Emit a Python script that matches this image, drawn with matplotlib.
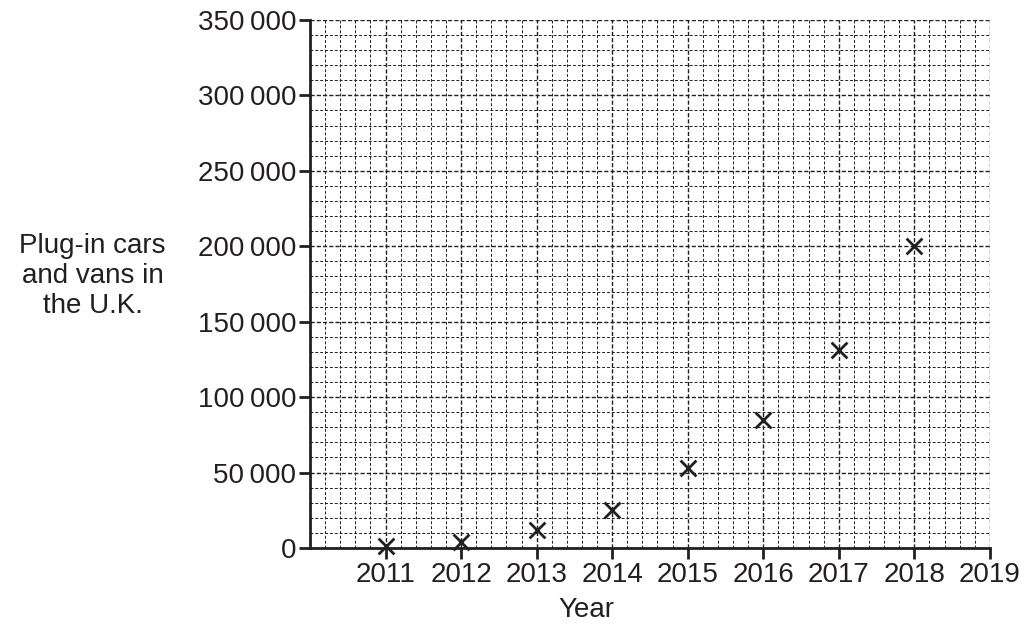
import matplotlib
matplotlib.use("Agg")
import matplotlib.pyplot as plt
from matplotlib.ticker import MultipleLocator, FuncFormatter

years = [2011, 2012, 2013, 2014, 2015, 2016, 2017, 2018]
vehicles = [1300, 4000, 12000, 25000, 53000, 85000, 131000, 200000]
year_ticks = [2011, 2012, 2013, 2014, 2015, 2016, 2017, 2018, 2019]

plt.rcParams["font.family"] = ["Liberation Sans", "DejaVu Sans"]
INK = "#231f20"
FS = 20

fig = plt.figure(figsize=(10.3, 6.28), dpi=100)
ax = fig.add_axes([0.301, 0.1274, 0.66, 0.8408])

ax.set_xlim(2010, 2019)
ax.set_ylim(0, 350000)

# fine graph-paper grid: 5 squares per year, 10 000 per square
ax.xaxis.set_minor_locator(MultipleLocator(0.2))
ax.yaxis.set_minor_locator(MultipleLocator(10000))
ax.set_xticks(year_ticks)
ax.yaxis.set_major_locator(MultipleLocator(50000))
ax.yaxis.set_major_formatter(FuncFormatter(
    lambda v, _: "0" if v == 0 else f"{int(v):,}".replace(",", "\u2009")))

ax.grid(which="minor", color=INK, ls=(0, (3, 2)), lw=0.7)
ax.grid(which="major", color=INK, ls=(0, (3, 1.5)), lw=1.0)
ax.set_axisbelow(True)

for s in ["top", "right"]:
    ax.spines[s].set_visible(False)
for s in ["left", "bottom"]:
    ax.spines[s].set_linewidth(2)
    ax.spines[s].set_color(INK)

ax.tick_params(which="major", length=8, width=2, color=INK,
               labelsize=FS, labelcolor=INK, pad=2)
ax.tick_params(which="minor", length=0)

ax.scatter(years, vehicles, marker="x", s=130, color=INK, linewidths=2,
           zorder=5, clip_on=False)

fig.text(0.569, 0.028, "Year", ha="center", va="center", fontsize=FS,
         color=INK)
fig.text(0.09, 0.56, "Plug-in cars\nand vans in\nthe U.K.", ha="center",
         va="center", fontsize=FS, color=INK, linespacing=1.2)

fig.savefig("out.png", dpi=100)
